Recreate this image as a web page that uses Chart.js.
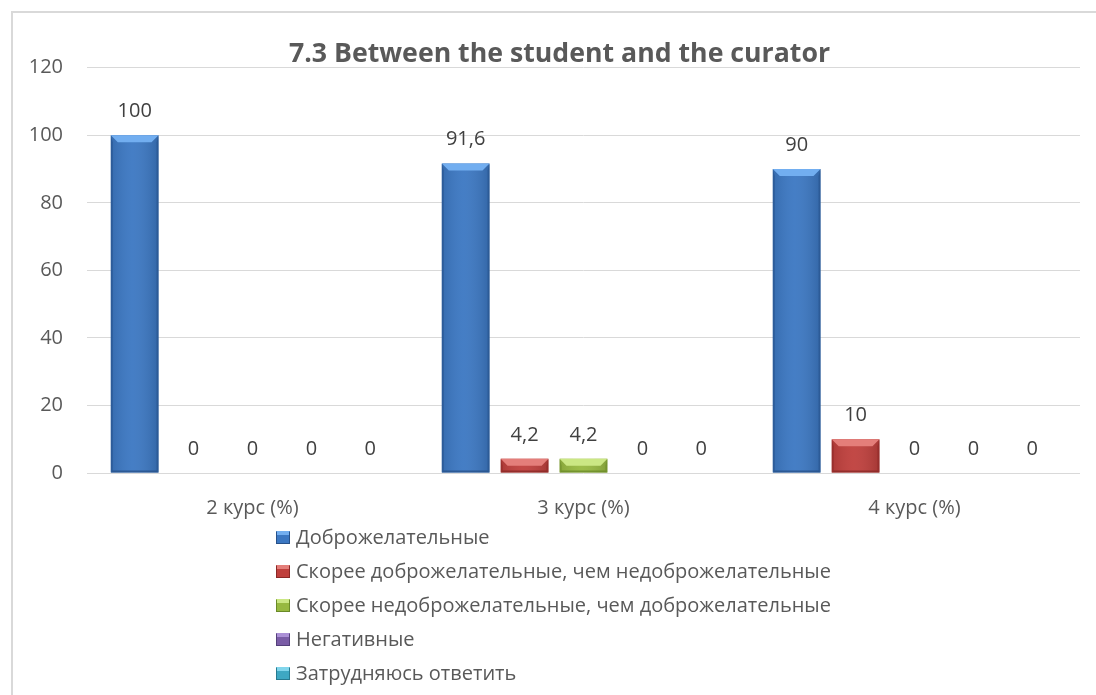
<!DOCTYPE html>
<html lang="ru">
<head>
<meta charset="utf-8">
<title>7.3 Between the student and the curator</title>
<script src="https://cdn.jsdelivr.net/npm/chart.js@4.4.1/dist/chart.umd.min.js"></script>
<style>
  html, body { margin: 0; padding: 0; background: #fff; }
  body { width: 1096px; height: 695px; position: relative; overflow: hidden; font-family: "Open Sans", sans-serif; }
  #frame { position: absolute; left: 11px; top: 11px; width: 1200px; height: 800px;
           border-left: 2px solid #d9d9d9; border-top: 2px solid #d9d9d9; pointer-events: none; }
  #wrap { position: absolute; left: 0; top: 0; width: 1096px; height: 695px; }
  #legend { position: absolute; left: 276px; top: 520px; margin: 0; padding: 0; list-style: none;
            font-size: 20px; color: #595959; }
  #legend li { height: 34px; line-height: 34px; display: flex; align-items: center; white-space: nowrap; }
  #legend .swatch { width: 14px; height: 13px; margin-right: 6px; box-sizing: border-box; }
</style>
</head>
<body>
<div id="wrap"><canvas id="chart"></canvas></div>
<div id="frame"></div>
<ul id="legend"></ul>
<script>
// --- DATA ---
const courses = ['2 курс (%)', '3 курс (%)', '4 курс (%)'];
const seriesNames = [
  'Доброжелательные',
  'Скорее доброжелательные, чем недоброжелательные',
  'Скорее недоброжелательные, чем доброжелательные',
  'Негативные',
  'Затрудняюсь ответить'
];
const friendly = [100, 91.6, 90];
const ratherFriendly = [0, 4.2, 10];
const ratherUnfriendly = [0, 4.2, 0];
const negative = [0, 0, 0];
const hardToSay = [0, 0, 0];
const yTicks = [0, 20, 40, 60, 80, 100, 120];

// body / light bevel / dark edge for each series
const palette = [
  { body: '#3b77c2', light: '#72aef0', dark: '#275189' },
  { body: '#bf3f3c', light: '#e47e7a', dark: '#8a2826' },
  { body: '#97b940', light: '#cbe784', dark: '#6a8a28' },
  { body: '#7a5ca6', light: '#ab90d6', dark: '#54407a' },
  { body: '#3ea8c3', light: '#82d6ec', dark: '#277a90' }
];

const seriesValues = [friendly, ratherFriendly, ratherUnfriendly, negative, hardToSay];
const textColor = '#595959';
const fontFamily = '"Open Sans", sans-serif';

// --- PLUGINS ---

// Bevelled look on each bar: light top facet, darker sides and base
const bevelPlugin = {
  id: 'bevel',
  afterDatasetsDraw(chart) {
    const ctx = chart.ctx;
    chart.data.datasets.forEach((ds, di) => {
      const meta = chart.getDatasetMeta(di);
      const col = palette[di];
      meta.data.forEach(bar => {
        const h = bar.base - bar.y;
        if (h < 1) return;
        const L = bar.x - bar.width / 2, R = bar.x + bar.width / 2;
        const T = bar.y, B = bar.base;
        const b = Math.min(7, h / 2);
        ctx.save();
        // soft horizontal shading across the body
        const g = ctx.createLinearGradient(L, 0, R, 0);
        g.addColorStop(0, 'rgba(0,0,0,0.10)');
        g.addColorStop(0.45, 'rgba(255,255,255,0.05)');
        g.addColorStop(1, 'rgba(0,0,0,0.14)');
        ctx.fillStyle = g;
        ctx.fillRect(L, T, R - L, B - T);
        // top facet
        ctx.fillStyle = col.light;
        ctx.beginPath();
        ctx.moveTo(L, T); ctx.lineTo(R, T); ctx.lineTo(R - b, T + b); ctx.lineTo(L + b, T + b);
        ctx.closePath(); ctx.fill();
        // left and right facets
        ctx.fillStyle = col.dark;
        ctx.globalAlpha = 0.55;
        ctx.beginPath();
        ctx.moveTo(L, T); ctx.lineTo(L + 2, T + b); ctx.lineTo(L + 2, B - 2); ctx.lineTo(L, B);
        ctx.closePath(); ctx.fill();
        ctx.beginPath();
        ctx.moveTo(R, T); ctx.lineTo(R - 2, T + b); ctx.lineTo(R - 2, B - 2); ctx.lineTo(R, B);
        ctx.closePath(); ctx.fill();
        // base facet
        ctx.globalAlpha = 0.8;
        ctx.beginPath();
        ctx.moveTo(L, B); ctx.lineTo(R, B); ctx.lineTo(R - 2, B - 2); ctx.lineTo(L + 2, B - 2);
        ctx.closePath(); ctx.fill();
        ctx.restore();
      });
    });
  }
};

// Value labels above every bar, decimal comma
const valueLabels = {
  id: 'valueLabels',
  afterDatasetsDraw(chart) {
    const ctx = chart.ctx;
    ctx.save();
    ctx.font = '20px ' + fontFamily;
    ctx.fillStyle = '#404040';
    ctx.textAlign = 'center';
    ctx.textBaseline = 'middle';
    chart.data.datasets.forEach((ds, di) => {
      chart.getDatasetMeta(di).data.forEach((bar, i) => {
        const text = String(ds.data[i]).replace('.', ',');
        ctx.fillText(text, bar.x, bar.y - 24);
      });
    });
    ctx.restore();
  }
};

// --- CHART ---
const datasets = seriesNames.map((name, i) => ({
  label: name,
  data: seriesValues[i],
  backgroundColor: palette[i].body,
  borderWidth: 0,
  categoryPercentage: 0.89,
  barPercentage: 0.81
}));

new Chart(document.getElementById('chart'), {
  type: 'bar',
  data: { labels: courses, datasets: datasets },
  plugins: [bevelPlugin, valueLabels],
  options: {
    responsive: true,
    maintainAspectRatio: false,
    animation: false,
    layout: { padding: { left: 23, right: 0, top: 0, bottom: 172 } },
    plugins: {
      legend: { display: false },
      tooltip: { enabled: false },
      title: {
        display: true,
        text: '7.3 Between the student and the curator',
        color: textColor,
        font: { family: fontFamily, size: 26.7, weight: 'bold', lineHeight: 1 },
        padding: { top: 41, bottom: 0 }
      }
    },
    scales: {
      x: {
        grid: { display: false },
        border: { display: false },
        ticks: { color: textColor, font: { family: fontFamily, size: 20 }, padding: 15 },
        afterFit(scale) { scale.height = 50; }
      },
      y: {
        min: 0,
        max: 120,
        afterBuildTicks(scale) { scale.ticks = yTicks.map(v => ({ value: v })); },
        grid: { color: '#d9d9d9', lineWidth: 1, drawTicks: false },
        border: { display: false },
        ticks: { color: textColor, font: { family: fontFamily, size: 20 }, padding: 24 },
        afterFit(scale) { scale.width = 64; }
      },
      // empty right-hand margin so the title centres over the whole frame
      yRight: {
        position: 'right',
        min: 0,
        max: 120,
        grid: { display: false },
        border: { display: false },
        ticks: { display: false },
        afterFit(scale) { scale.width = 16; }
      }
    }
  }
});

// --- LEGEND ---
const legendEl = document.getElementById('legend');
seriesNames.forEach((name, i) => {
  const li = document.createElement('li');
  const sw = document.createElement('span');
  sw.className = 'swatch';
  const c = palette[i];
  sw.style.background = c.body;
  sw.style.border = '1px solid ' + c.dark;
  sw.style.borderTopColor = c.light;
  sw.style.boxShadow = 'inset 0 3px 0 ' + c.light;
  const label = document.createElement('span');
  label.textContent = name;
  li.appendChild(sw);
  li.appendChild(label);
  legendEl.appendChild(li);
});
</script>
</body>
</html>
